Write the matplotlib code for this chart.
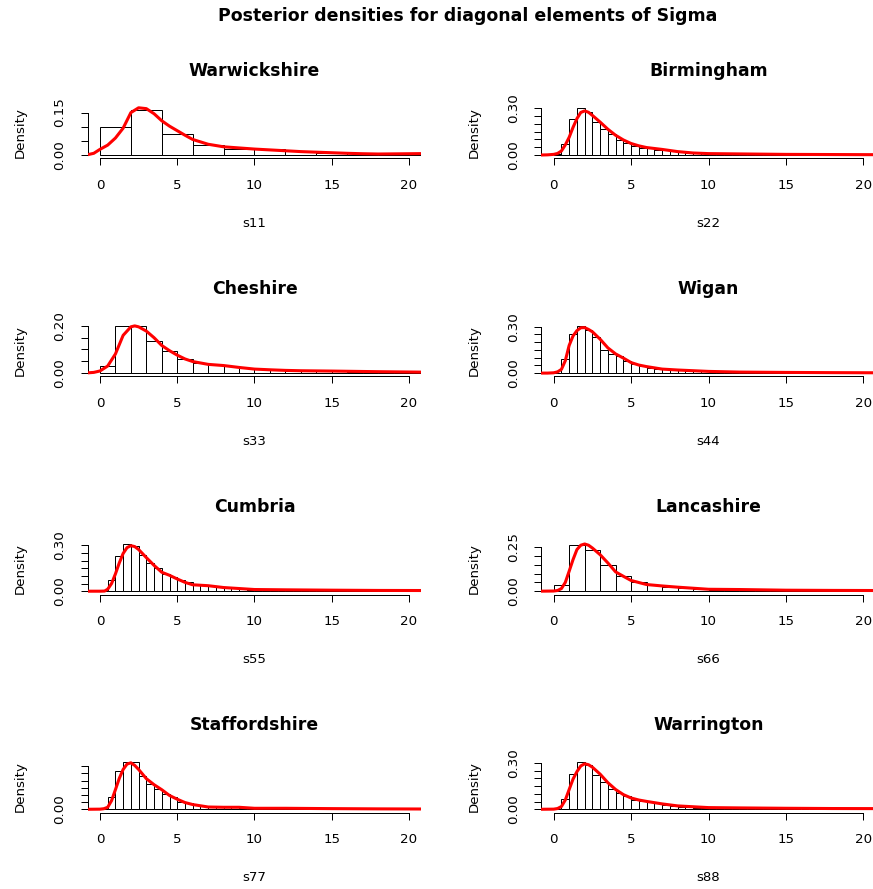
import matplotlib
matplotlib.use("Agg")
import matplotlib.pyplot as plt
import numpy as np

plt.rcParams["font.family"] = ["DejaVu Sans"]

main_title = "Posterior densities for diagonal elements of Sigma"
regions = ["Warwickshire", "Birmingham", "Cheshire", "Wigan",
           "Cumbria", "Lancashire", "Staffordshire", "Warrington"]
params = ["s11", "s22", "s33", "s44", "s55", "s66", "s77", "s88"]
bin_widths = [2.0, 0.5, 1.0, 0.5, 0.5, 1.0, 0.5, 0.5]
x_ticks = [0, 5, 10, 15, 20]
# whether the top y tick carries a label
label_top_tick = [True, True, True, True, True, True, False, True]

# histogram densities, bins starting at 0
hist_s11 = [0.100, 0.160, 0.075, 0.035, 0.022, 0.020, 0.014, 0.008, 0.006, 0.005, 0.004]
hist_s22 = [0.004, 0.070, 0.234, 0.304, 0.274, 0.212, 0.168, 0.136, 0.098, 0.077, 0.059,
            0.048, 0.042, 0.035, 0.031, 0.026, 0.022, 0.016, 0.013, 0.011,
            0.009, 0.009, 0.008, 0.008, 0.007, 0.007, 0.006, 0.006, 0.005, 0.005, 0.005,
            0.004, 0.004, 0.004, 0.003, 0.003, 0.003, 0.003, 0.002, 0.002, 0.002, 0.002]
hist_s33 = [0.030, 0.200, 0.200, 0.138, 0.092, 0.059, 0.043, 0.035, 0.029, 0.023, 0.017,
            0.0115, 0.010, 0.0086, 0.008, 0.007, 0.006, 0.006, 0.005, 0.005, 0.004]
hist_s44 = [0.003, 0.090, 0.252, 0.305, 0.278, 0.230, 0.150, 0.124, 0.108, 0.075, 0.057,
            0.049, 0.035, 0.029, 0.024, 0.022, 0.020, 0.015, 0.013, 0.011,
            0.010, 0.009, 0.008, 0.008, 0.007, 0.006, 0.006, 0.005, 0.005, 0.004, 0.004,
            0.004, 0.003, 0.003, 0.003, 0.003, 0.002, 0.002, 0.002, 0.002, 0.002, 0.002]
hist_s55 = [0.002, 0.073, 0.231, 0.309, 0.298, 0.236, 0.184, 0.153, 0.113, 0.096, 0.073,
            0.058, 0.042, 0.038, 0.031, 0.027, 0.022, 0.018, 0.013, 0.011,
            0.010, 0.010, 0.009, 0.009, 0.008, 0.008, 0.007, 0.007, 0.006, 0.006, 0.006,
            0.005, 0.005, 0.005, 0.005, 0.004, 0.004, 0.004, 0.004, 0.004, 0.004, 0.004]
hist_s66 = [0.036, 0.261, 0.235, 0.152, 0.089, 0.053, 0.036, 0.0265, 0.019, 0.013, 0.0095,
            0.008, 0.007, 0.006, 0.005, 0.005, 0.004, 0.004, 0.004, 0.003, 0.003]
hist_s77 = [0.003, 0.082, 0.265, 0.328, 0.328, 0.230, 0.178, 0.141, 0.105, 0.082, 0.054,
            0.045, 0.033, 0.023, 0.019, 0.016, 0.014, 0.014, 0.012, 0.009,
            0.007, 0.007, 0.007, 0.006, 0.006, 0.006, 0.005, 0.005, 0.005, 0.005, 0.004,
            0.004, 0.004, 0.004, 0.003, 0.003, 0.003, 0.003, 0.003, 0.002, 0.002, 0.002]
hist_s88 = [0.003, 0.068, 0.227, 0.305, 0.287, 0.223, 0.177, 0.132, 0.106, 0.084, 0.062,
            0.055, 0.046, 0.0375, 0.029, 0.022, 0.018, 0.013, 0.011, 0.009,
            0.010, 0.009, 0.009, 0.008, 0.008, 0.007, 0.007, 0.007, 0.006, 0.006, 0.006,
            0.005, 0.005, 0.005, 0.005, 0.005, 0.004, 0.004, 0.004, 0.004, 0.004, 0.004]

# kernel density estimates (x, density)
dens_x_s11 = [-1.0, -0.8, -0.4, 0, 0.5, 1, 1.5, 2, 2.5, 3, 3.5, 4, 4.5, 5, 5.5, 6, 7, 8, 9,
              10, 11, 12, 13, 14, 15, 16, 17, 18, 19, 20, 21]
dens_y_s11 = [0.0, 0.001, 0.006, 0.020, 0.035, 0.060, 0.095, 0.150, 0.167, 0.164, 0.146,
              0.121, 0.102, 0.086, 0.070, 0.055, 0.038, 0.029, 0.025, 0.021, 0.018, 0.015,
              0.012, 0.010, 0.008, 0.006, 0.0045, 0.0035, 0.004, 0.0045, 0.005]
dens_x_s22 = [-1.0, -0.8, -0.4, 0, 0.25, 0.5, 0.75, 1, 1.25, 1.5, 1.75, 2, 2.25, 2.5, 3, 3.5,
              4, 4.5, 5, 5.5, 6, 7, 8, 9, 10, 12, 15, 18, 21]
dens_y_s22 = [0.0, 0.0, 0.001, 0.004, 0.010, 0.026, 0.065, 0.114, 0.178, 0.234, 0.274, 0.284,
              0.275, 0.255, 0.212, 0.166, 0.127, 0.097, 0.074, 0.059, 0.048, 0.036, 0.022,
              0.013, 0.009, 0.007, 0.004, 0.003, 0.002]
dens_x_s33 = [-1.0, -0.8, -0.4, 0, 0.5, 1, 1.5, 2, 2.25, 2.5, 3, 3.5, 4, 4.5, 5, 5.5, 6, 7, 8,
              9, 10, 11, 12, 13, 15, 18, 21]
dens_y_s33 = [0.0, 0.001, 0.003, 0.009, 0.030, 0.081, 0.160, 0.196, 0.200, 0.196, 0.178, 0.150,
              0.117, 0.095, 0.076, 0.060, 0.049, 0.037, 0.032, 0.024, 0.017, 0.014, 0.0115,
              0.010, 0.0086, 0.006, 0.004]
dens_x_s44 = [-1.0, -0.4, 0, 0.25, 0.5, 0.75, 1, 1.25, 1.5, 1.75, 2, 2.25, 2.5, 3, 3.5, 4, 4.5,
              5, 5.5, 6, 7, 8, 10, 12, 15, 18, 21]
dens_y_s44 = [0.0, 0.0, 0.002, 0.008, 0.024, 0.080, 0.179, 0.240, 0.274, 0.293, 0.294, 0.282,
              0.267, 0.219, 0.163, 0.124, 0.097, 0.068, 0.052, 0.042, 0.026, 0.020, 0.011,
              0.0066, 0.0044, 0.003, 0.002]
dens_x_s55 = [-1.0, 0, 0.3, 0.5, 0.75, 1, 1.25, 1.5, 1.75, 2, 2.25, 2.5, 3, 3.5, 4, 4.5, 5, 5.5,
              6, 7, 8, 10, 12, 15, 18, 21]
dens_y_s55 = [0.0, 0.0, 0.001, 0.013, 0.050, 0.113, 0.185, 0.247, 0.285, 0.298, 0.292, 0.273,
              0.220, 0.169, 0.124, 0.104, 0.080, 0.058, 0.042, 0.036, 0.024, 0.011, 0.009,
              0.0067, 0.005, 0.0044]
dens_x_s66 = [-1.0, 0, 0.25, 0.5, 0.75, 1, 1.25, 1.5, 1.75, 2, 2.25, 2.5, 3, 3.5, 4, 4.5, 5, 6,
              7, 8, 10, 12, 15, 18, 21]
dens_y_s66 = [0.0, 0.001, 0.004, 0.015, 0.050, 0.114, 0.180, 0.237, 0.262, 0.269, 0.262, 0.246,
              0.208, 0.161, 0.110, 0.085, 0.061, 0.038, 0.030, 0.023, 0.011, 0.0095, 0.0057,
              0.0045, 0.0038]
dens_x_s77 = [-1.0, 0, 0.25, 0.5, 0.75, 1, 1.25, 1.5, 1.75, 2, 2.25, 2.5, 3, 3.5, 4, 4.5, 5, 5.5,
              6, 7, 8, 9, 10, 12, 15, 18, 21]
dens_y_s77 = [0.0, 0.001, 0.004, 0.014, 0.060, 0.136, 0.215, 0.277, 0.314, 0.323, 0.305, 0.277,
              0.213, 0.171, 0.136, 0.096, 0.070, 0.047, 0.033, 0.016, 0.014, 0.014, 0.007,
              0.007, 0.0047, 0.003, 0.002]
dens_x_s88 = [-1.0, 0, 0.25, 0.5, 0.75, 1, 1.25, 1.5, 1.75, 2, 2.25, 2.5, 3, 3.5, 4, 4.5, 5, 5.5,
              6, 7, 8, 10, 12, 15, 18, 21]
dens_y_s88 = [0.0, 0.001, 0.005, 0.018, 0.060, 0.128, 0.195, 0.243, 0.280, 0.294, 0.288, 0.272,
              0.227, 0.172, 0.128, 0.095, 0.073, 0.060, 0.051, 0.035, 0.022, 0.011, 0.009,
              0.0066, 0.005, 0.0044]

hists = [hist_s11, hist_s22, hist_s33, hist_s44, hist_s55, hist_s66, hist_s77, hist_s88]
dens_x = [dens_x_s11, dens_x_s22, dens_x_s33, dens_x_s44,
          dens_x_s55, dens_x_s66, dens_x_s77, dens_x_s88]
dens_y = [dens_y_s11, dens_y_s22, dens_y_s33, dens_y_s44,
          dens_y_s55, dens_y_s66, dens_y_s77, dens_y_s88]

# ---- layout (pixel geometry) ----
W, H = 873, 889
fig = plt.figure(figsize=(W / 100, H / 100), dpi=100)
fig.patch.set_facecolor("white")

col_x = [(87.6, 421.4), (541.3, 875.7)]
row_axis_y = 158.3
row_step = 218.1
panel_h = 52.4
axis_fs = 9.6
title_fs = 12.4
px = 0.72  # one pixel in points


def fx(x):
    return x / W


def fy(y):
    return 1 - y / H


for i in range(8):
    r, c = divmod(i, 2)
    x0, x1 = col_x[c]
    ybot = row_axis_y + row_step * r
    ytop = ybot - panel_h
    ax = fig.add_axes([fx(x0), fy(ybot), (x1 - x0) / W, panel_h / H])

    heights = np.asarray(hists[i])
    bw = bin_widths[i]
    left_edges = np.arange(len(heights)) * bw
    ax.bar(left_edges, heights, width=bw, align="edge", facecolor="white",
           edgecolor="black", linewidth=px, zorder=2)
    ax.plot(dens_x[i], dens_y[i], color="#ff0000", linewidth=2.2, zorder=3,
            solid_capstyle="butt")

    ymax = max(heights.max(), max(dens_y[i]))
    ax.set_xlim(-0.8, 20.8)
    ax.set_ylim(-0.0699 * ymax, 1.04 * ymax)

    top_tick = np.floor(ymax / 0.05 + 1e-9) * 0.05
    yt = np.arange(0, top_tick + 1e-9, 0.05)
    ylabels = []
    for j, v in enumerate(yt):
        if j == 0 or (j == len(yt) - 1 and label_top_tick[i]):
            ylabels.append("%.2f" % v)
        else:
            ylabels.append("")
    ax.set_yticks(yt)
    ax.set_yticklabels(ylabels, rotation=90, va="center")
    ax.set_xticks(x_ticks)
    ax.set_xticklabels([str(t) for t in x_ticks])

    for s in ("top", "right"):
        ax.spines[s].set_visible(False)
    ax.spines["left"].set_bounds(0, yt[-1])
    ax.spines["bottom"].set_bounds(x_ticks[0], x_ticks[-1])
    for s in ("left", "bottom"):
        ax.spines[s].set_linewidth(px)
    ax.tick_params(axis="both", direction="out", length=7.3 * px, width=px,
                   labelsize=axis_fs, color="black")
    ax.tick_params(axis="x", pad=13.5 * px)
    ax.tick_params(axis="y", pad=13.8 * px)
    ax.patch.set_alpha(0)

    xc = (x0 + x1) / 2
    fig.text(fx(xc), fy(ybot - 82.3), regions[i], ha="center", va="baseline",
             fontsize=title_fs, fontweight="bold")
    fig.text(fx(xc), fy(ybot + 68.4), params[i], ha="center", va="baseline",
             fontsize=axis_fs)
    fig.text(fx(x0 - 63.8), fy((ytop + ybot) / 2), "Density", rotation=90,
             rotation_mode="anchor", ha="center", va="baseline", fontsize=axis_fs)

fig.text(fx(467.5), fy(20.7), main_title, ha="center", va="baseline",
         fontsize=12.5, fontweight="bold")

fig.savefig("out.png", dpi=100, facecolor="white")
